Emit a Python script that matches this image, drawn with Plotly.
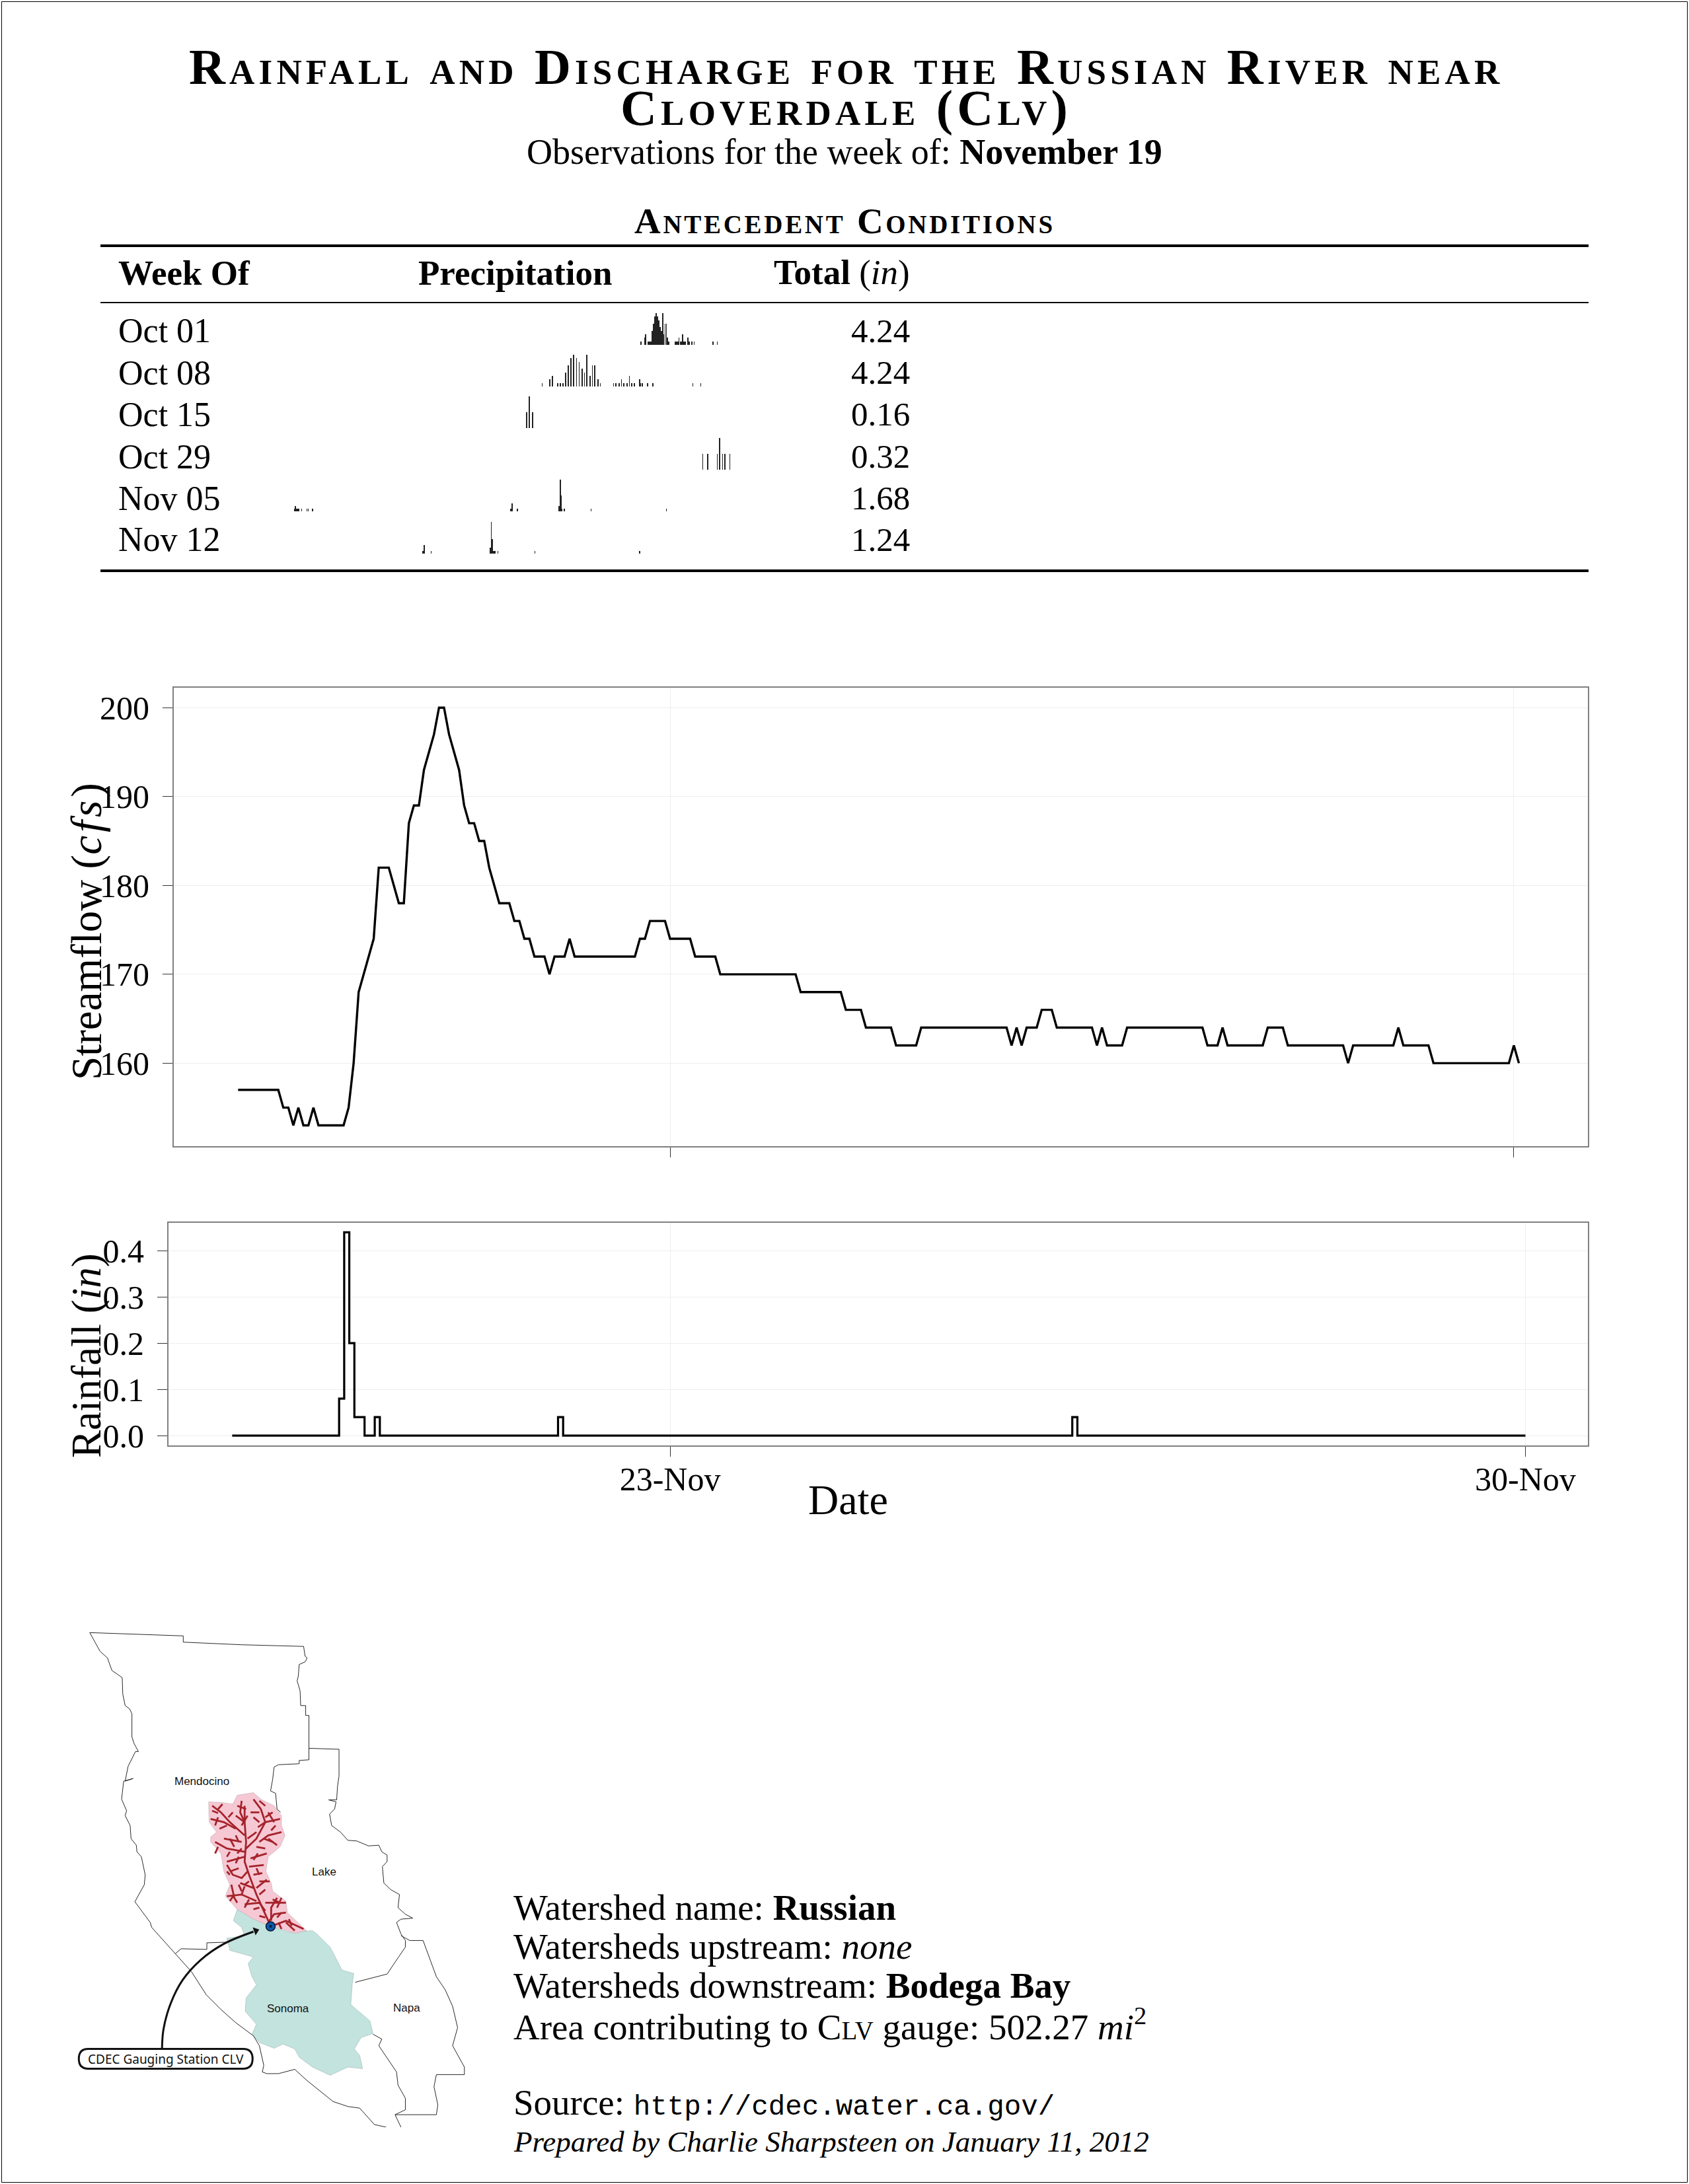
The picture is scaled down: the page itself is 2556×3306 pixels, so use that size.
import pandas as pd
import plotly.graph_objects as go

W, H = 2556, 3306

# ---------- data ----------
start_time = "2011-11-19 10:00"
tick_dates = ["2011-11-23", "2011-11-30"]
tick_labels = ["23-Nov", "30-Nov"]

streamflow_cfs = [
    157,157,157,157,157,157,157,157,157,155,155,153,155,153,153,155,153,153,153,153,
    153,153,155,160,168,170,172,174,182,182,182,180,178,178,187,189,189,193,195,197,
    200,200,197,195,193,189,187,187,185,185,182,180,178,178,178,176,176,174,174,172,
    172,172,170,172,172,172,174,172,172,172,172,172,172,172,172,172,172,172,172,172,
    174,174,176,176,176,176,174,174,174,174,174,172,172,172,172,172,170,170,170,170,
    170,170,170,170,170,170,170,170,170,170,170,170,168,168,168,168,168,168,168,168,
    168,166,166,166,166,164,164,164,164,164,164,162,162,162,162,162,164,164,164,164,
    164,164,164,164,164,164,164,164,164,164,164,164,164,164,162,164,162,164,164,164,
    166,166,166,164,164,164,164,164,164,164,164,162,164,162,162,162,162,164,164,164,
    164,164,164,164,164,164,164,164,164,164,164,164,164,162,162,162,164,162,162,162,
    162,162,162,162,162,164,164,164,164,162,162,162,162,162,162,162,162,162,162,162,
    162,160,162,162,162,162,162,162,162,162,162,164,162,162,162,162,162,162,160,160,
    160,160,160,160,160,160,160,160,160,160,160,160,160,160,162,160,
]
rainfall_in = [
    0,0,0,0,0,0,0,0,0,0,0,0,0,0,0,0,0,0,0,0,
    0,0.08,0.44,0.2,0.04,0.04,0,0,0.04,0,0,0,0,0,0,0,0,0,0,0,
    0,0,0,0,0,0,0,0,0,0,0,0,0,0,0,0,0,0,0,0,
    0,0,0,0,0.04,0,0,0,0,0,0,0,0,0,0,0,0,0,0,0,
    0,0,0,0,0,0,0,0,0,0,0,0,0,0,0,0,0,0,0,0,
    0,0,0,0,0,0,0,0,0,0,0,0,0,0,0,0,0,0,0,0,
    0,0,0,0,0,0,0,0,0,0,0,0,0,0,0,0,0,0,0,0,
    0,0,0,0,0,0,0,0,0,0,0,0,0,0,0,0,0,0,0,0,
    0,0,0,0,0,0.04,0,0,0,0,0,0,0,0,0,0,0,0,0,0,
    0,0,0,0,0,0,0,0,0,0,0,0,0,0,0,0,0,0,0,0,
    0,0,0,0,0,0,0,0,0,0,0,0,0,0,0,0,0,0,0,0,
    0,0,0,0,0,0,0,0,0,0,0,0,0,0,0,0,0,0,0,0,
    0,0,0,0,0,0,0,0,0,0,0,0,0,0,0,
]
flow_ticks = [160, 170, 180, 190, 200]
rain_ticks = [0.0, 0.1, 0.2, 0.3, 0.4]

week_of = ["Oct 01", "Oct 08", "Oct 15", "Oct 29", "Nov 05", "Nov 12"]
week_total = ["4.24", "4.24", "0.16", "0.32", "1.68", "1.24"]

spark_pos_oct01 = [1191,1203,1207,1215,1219,1223,1227,1231,1235,1239,1244,1248,1252,1256,1260,1264,1268,1272,1276,1280,
                   1300,1304,1308,1312,1316,1320,1324,1328,1332,1340,1342,1344,1352,1360,1420,1433]
spark_pos_oct08 = [879,904,912,929,937,945,954,962,970,979,988,996,1005,1013,1021,1030,1038,1046,1055,1063,
                   1105,1113,1122,1130,1138,1147,1155,1163,1171,1187,1190,1196,1213,1229,1356,1381]
spark_amt_oct = [0.04,0.08,0.12,0.04,0.04,0.04,0.16,0.24,0.32,0.36,0.32,0.28,0.2,0.16,0.36,0.12,0.24,0.24,0.08,0.04,
                 0.04,0.04,0.04,0.08,0.04,0.04,0.12,0.04,0.04,0.08,0.04,0.04,0.04,0.04,0.04,0.04]
spark_pos_oct15 = [830, 839, 848]
spark_amt_oct15 = [0.04, 0.08, 0.04]
spark_pos_oct29 = [1387, 1402, 1433, 1441, 1450, 1458, 1473]
spark_amt_oct29 = [0.04, 0.04, 0.04, 0.08, 0.04, 0.04, 0.04]
spark_pos_nov05 = [96,99,102,105,109,118,135,139,152,780,783,785,800,933,936,938,941,949,1034,1272]
spark_amt_nov05 = [0.04,0.08,0.04,0.04,0.04,0.04,0.04,0.04,0.04,0.04,0.12,0.12,0.04,0.08,0.48,0.24,0.04,0.04,0.04,0.04]
spark_pos_nov12 = [501,505,507,528,715,718,722,726,729,739,856,1188]
spark_amt_nov12 = [0.04,0.12,0.12,0.04,0.08,0.44,0.2,0.04,0.04,0.04,0.04,0.04]

# map outlines, traced in map units
county_mendocino = [(125,63),(442,73),(442,92),(640,100),(850,105),(855,135),(862,140),(855,152),(835,160),(832,195),(828,210),(838,240),
    (840,285),(857,285),(857,315),(868,315),(868,450),(835,452),(835,462),(765,465),(750,472),(745,510),(738,545),(755,552),(760,600),(772,610)]
county_mendocino_south = [(590,1005),(522,1007),(522,1027),(435,1025),(415,1040),(370,995),(335,960),(330,945),(278,882),(310,830),(313,800),
    (300,745),(285,730),(283,710),(265,690),(262,650),(245,620),(250,605),(233,570),(240,515),(272,507),(245,515),(255,470),(280,425),(290,425),
    (275,400),(268,380),(268,310),(260,295),(245,285),(237,250),(235,200),(200,178),(185,140),(160,120),(125,63)]
county_lake = [(868,415),(970,418),(970,500),(965,530),(962,572),(935,572),(960,578),(955,600),(938,615),(945,650),(975,670),(1000,695),(1030,697),
    (1070,712),(1105,710),(1115,730),(1133,740),(1133,760),(1117,775),(1122,825),(1145,845),(1175,860),(1170,900),(1195,920),(1220,932),(1180,935),
    (1165,945),(1180,980),(1195,1000),(1195,1020),(1172,1050),(1133,1102),(1025,1127)]
county_napa = [(1180,985),(1210,1000),(1255,1000),(1280,1060),(1300,1110),(1330,1150),(1355,1200),(1372,1265),(1355,1320),(1395,1385),(1395,1408),
    (1300,1408),(1292,1445),(1305,1500),(1300,1530),(1160,1530),(1180,1568)]
county_sonoma_east = [(1085,1285),(1115,1300),(1105,1320),(1135,1360),(1165,1400),(1170,1440),(1195,1480),(1195,1515),(1160,1530)]
county_sonoma_coast = [(415,1040),(470,1095),(520,1165),(570,1210),(620,1250),(680,1290),(700,1320),(715,1380),(710,1400),(725,1405),(765,1405),
    (820,1392),(860,1425),(950,1490),(1000,1505),(1040,1510),(1090,1560),(1130,1568)]
basin_downstream = [(625,905),(612,940),(640,960),(650,985),(590,993),(600,1030),(660,1045),(680,1050),(662,1070),(675,1110),(690,1135),(655,1175),
    (652,1215),(690,1255),(675,1285),(700,1310),(750,1328),(780,1315),(820,1330),(835,1355),(880,1385),(940,1410),(1000,1385),(1050,1390),(1040,1350),
    (1022,1330),(1045,1295),(1085,1283),(1075,1245),(1010,1195),(1015,1130),(1020,1100),(980,1090),(940,1020),(895,980),(880,970),(800,975),(720,950),(680,930)]
basin_upstream = [(528,578),(575,580),(610,585),(625,558),(680,550),(705,570),(750,590),(775,620),(775,650),(787,680),(770,715),(730,745),(722,790),
    (740,825),(745,850),(790,880),(795,915),(830,945),(860,970),(820,978),(760,960),(720,950),(680,935),(625,905),(585,865),(600,830),(580,790),(570,735),
    (535,700),(535,685),(555,670),(530,640)]
river_reaches = [
    [(650,590),(650,640),(655,700),(650,760),(665,800),(690,860),(720,920),(738,955)],
    [(540,590),(570,610),(600,640),(650,680)], [(535,630),(580,640),(620,660)], [(640,575),(635,610),(650,640)],
    [(680,570),(705,600),(720,640),(690,690),(655,720)], [(670,610),(700,610)], [(770,630),(720,640),(695,655)],
    [(775,670),(730,680),(700,700)], [(760,710),(730,690)], [(550,700),(590,720),(650,730)], [(580,690),(640,700)],
    [(590,760),(650,745)], [(725,735),(670,750)], [(715,770),(665,775)], [(590,770),(610,800),(640,810),(660,790)],
    [(600,790),(630,780)], [(635,825),(680,840)], [(725,815),(690,840)], [(605,830),(615,870),(625,885)],
    [(590,865),(640,860),(690,880)], [(650,890),(700,885),(720,910)], [(790,885),(720,885)], [(760,870),(740,900),(740,940)],
    [(790,915),(750,920),(730,945)], [(850,965),(790,940),(745,955)], [(820,970),(790,945)], [(700,820),(735,820)],
    [(650,640),(620,620)], [(560,625),(550,650)], [(730,610),(750,640)], [(615,715),(600,690)], [(690,780),(700,800)],
    [(560,600),(575,585)], [(700,575),(720,590)], [(640,860),(650,835)], [(760,900),(775,870)],
    [(540,605),(560,612)], [(595,625),(610,610)], [(565,660),(590,650)], [(625,590),(655,600)], [(660,620),(640,650)],
    [(745,610),(720,625)], [(700,640),(680,625)], [(755,650),(740,665)], [(745,700),(715,690)], [(690,715),(720,720)],
    [(660,690),(690,670)], [(620,680),(630,700)], [(560,715),(550,735)], [(600,730),(590,745)], [(630,745),(620,765)],
    [(680,755),(695,735)], [(640,720),(625,735)], [(600,800),(590,790)], [(680,800),(710,795)], [(630,830),(640,850)],
    [(665,820),(650,830)], [(720,845),(700,860)], [(615,860),(600,880)], [(665,875),(650,900)], [(700,900),(680,905)],
    [(745,875),(770,885)], [(760,930),(775,915)], [(810,955),(800,935)], [(765,945),(775,965)], [(720,930),(700,925)],
]
gauge_arrow_path = [(370,1330),(375,1270),(400,1190),(440,1120),(500,1060),(580,1010),(680,973)]
gauge_point = (738, 957)
arrow_tip = (688, 970)

# ---------- helpers ----------
SERIF = "Liberation Serif"
def fx(px): return px / W
def fy(py): return 1 - py / H
def xs(p): return [a for a, _ in p]
def ys(p): return [b for _, b in p]

hours = pd.date_range(start_time, periods=len(streamflow_cfs), freq="h")
t23 = pd.Timestamp(tick_dates[0])
def axis_range(px_left, px_right, px_at_t23, px_per_hour):
    return [t23 + pd.Timedelta(hours=(px_left - px_at_t23) / px_per_hour),
            t23 + pd.Timedelta(hours=(px_right - px_at_t23) / px_per_hour)]

fig = go.Figure()

# main series
fig.add_trace(go.Scatter(x=hours, y=streamflow_cfs, mode="lines", xaxis="x", yaxis="y",
                         line=dict(color="black", width=3.4), hoverinfo="skip", showlegend=False))
fig.add_trace(go.Scatter(x=hours[:len(rainfall_in)], y=rainfall_in, mode="lines", xaxis="x2", yaxis="y2",
                         line=dict(color="black", width=3.2, shape="hv"), hoverinfo="skip", showlegend=False))

# sparklines
rows = [(spark_pos_oct01, spark_amt_oct), (spark_pos_oct08, spark_amt_oct), (spark_pos_oct15, spark_amt_oct15),
        (spark_pos_oct29, spark_amt_oct29), (spark_pos_nov05, spark_amt_nov05), (spark_pos_nov12, spark_amt_nov12)]
baselines = [522, 585, 648, 711, 774, 838]
spark_layout = {}
for i, (pos, amt) in enumerate(rows):
    name = f"y{i+3}"
    fig.add_trace(go.Bar(x=pos, y=amt, width=1.7, xaxis="x3", yaxis=name,
                         marker=dict(color="#222222", line=dict(width=0)), hoverinfo="skip", showlegend=False))
    spark_layout[f"yaxis{i+3}"] = dict(domain=[fy(baselines[i]), fy(baselines[i] - 48)], range=[0, max(amt)],
                                       anchor="x3", visible=False, fixedrange=True)

# map
MAPX, MAPY = "x4", "y9"
def map_fill(p, color, line="rgba(0,0,0,0)", lw=0.5):
    fig.add_trace(go.Scatter(x=xs(p) + [p[0][0]], y=ys(p) + [p[0][1]], mode="lines", fill="toself", fillcolor=color,
                             line=dict(color=line, width=lw), xaxis=MAPX, yaxis=MAPY, hoverinfo="skip", showlegend=False))
def map_line(p, color="#111111", lw=0.9, **kw):
    fig.add_trace(go.Scatter(x=xs(p), y=ys(p), mode="lines", line=dict(color=color, width=lw, **kw),
                             xaxis=MAPX, yaxis=MAPY, hoverinfo="skip", showlegend=False))

map_fill(basin_downstream, "#c3e3de", "#8fa9a5")
map_fill(basin_upstream, "#f6c8d4", "#b5a0a5")
for c in (county_mendocino, county_mendocino_south, county_lake, county_napa, county_sonoma_east, county_sonoma_coast):
    map_line(c)
for r in river_reaches:
    map_line(r, color="#a5232b", lw=2.8)
map_line(gauge_arrow_path, color="#111111", lw=3, shape="spline")
fig.add_trace(go.Scatter(x=[arrow_tip[0]], y=[arrow_tip[1]], mode="markers", xaxis=MAPX, yaxis=MAPY,
                         marker=dict(size=11, color="#111111", symbol="triangle-up", angle=70),
                         hoverinfo="skip", showlegend=False))
fig.add_trace(go.Scatter(x=[gauge_point[0]], y=[gauge_point[1]], mode="markers", xaxis=MAPX, yaxis=MAPY,
                         marker=dict(size=14, color="#0d57a8", line=dict(color="#0a1a33", width=1.5)),
                         hoverinfo="skip", showlegend=False))
fig.add_trace(go.Scatter(x=[gauge_point[0]], y=[gauge_point[1]], mode="markers", xaxis=MAPX, yaxis=MAPY,
                         marker=dict(size=4, color="#0a1a33"), hoverinfo="skip", showlegend=False))

# ---------- text ----------
ann = []
def text(px, py, s, size, anchor="left", font=SERIF, angle=0, **kw):
    f = dict(family=font, size=size, color="black")
    f.update(kw)
    ann.append(dict(x=fx(px), y=fy(py), xref="paper", yref="paper", text=s, showarrow=False,
                    xanchor=anchor, yanchor="middle", align=anchor, font=f, textangle=angle))

ls = lambda s, n: f'<span style="letter-spacing:{n}px">{s}</span>'
text(1280, 101, ls("<b>Rainfall and Discharge for the Russian River near</b>", 6.2), 76, "center", variant="small-caps")
text(1280, 163, ls("<b>Cloverdale (Clv)</b>", 6.2), 76, "center", variant="small-caps")
text(1278, 230, "Observations for the week of: <b>November 19</b>", 54, "center")
text(1278, 334, ls("<b>Antecedent Conditions</b>", 3.7), 55, "center", variant="small-caps")
text(177, 413, "<b>Week Of</b>", 53)
text(631, 413, "<b>Precipitation</b>", 53)
text(1379, 413, "<b>Total</b> (<i>in</i>)", 53, "right")
for yy, wk, tot in zip([501, 564, 627, 691, 754, 817], week_of, week_total):
    text(177, yy, wk, 52)
    text(1379, yy, tot, 51, "right")

text(131, 1410, 'Streamflow (<span style="letter-spacing:5px"><i>cfs</i></span>)', 65, "center", angle=-90)
text(131, 2052, "Rainfall (<i>in</i>)", 63, "center", angle=-90)
text(1283, 2270, "Date", 64, "center")

lv = '<span style="font-size:39px">LV</span>'
text(775, 2887, "Watershed name: <b>Russian</b>", 55)
text(775, 2946, "Watersheds upstream: <i>none</i>", 55)
text(775, 3005, "Watersheds downstream: <b>Bodega Bay</b>", 55)
text(775, 3064, f"Area contributing to C{lv} gauge: 502.27 <i>mi</i><sup>2</sup>", 55)
text(775, 3183, "Source: <span style=\"font-family:'Liberation Mono';font-size:42.5px\">http://cdec.water.ca.gov/</span>", 55)
text(775, 3242, "<i>Prepared by Charlie Sharpsteen on January 11, 2012</i>", 45)

def map_text(x, y, s, size=17, font="Liberation Sans"):
    ann.append(dict(x=x, y=y, xref=MAPX, yref=MAPY, text=s, showarrow=False, xanchor="center", yanchor="middle",
                    font=dict(family=font, size=size, color="#111111")))
map_text(505, 515, "Mendocino")
map_text(920, 792, "Lake")
map_text(797, 1208, "Sonoma")
map_text(1200, 1206, "Napa")
map_text(382, 1360, "CDEC Gauging Station CLV", 19, "Noto Sans")

# ---------- layout ----------
frame = dict(showline=True, mirror=True, linecolor="#808080", linewidth=2, zeroline=False,
             showgrid=True, gridcolor="#eeeeee", gridwidth=1, ticks="outside", ticklen=15,
             tickcolor="#333333", tickwidth=1, fixedrange=True)
tickfont = dict(family=SERIF, size=50, color="black")

layout = dict(
    width=W, height=H, autosize=False, margin=dict(l=0, r=0, t=0, b=0, pad=0, autoexpand=False),
    paper_bgcolor="white", plot_bgcolor="white", showlegend=False, bargap=0,
    xaxis=dict(domain=[fx(263), fx(2403)], anchor="y", type="date", range=axis_range(263, 2403, 1014, 7.601),
               tickmode="array", tickvals=tick_dates, showticklabels=False, **frame),
    yaxis=dict(domain=[fy(1735), fy(1041)], anchor="x", range=[150.66, 202.25], tickmode="array",
               tickvals=flow_ticks, ticktext=[str(v) for v in flow_ticks], tickfont=tickfont, ticklabelstandoff=10, **frame),
    xaxis2=dict(domain=[fx(255), fx(2403)], anchor="y2", type="date", range=axis_range(255, 2403, 1014, 7.705),
                tickmode="array", tickvals=tick_dates, ticktext=tick_labels, tickfont=tickfont, ticklabelstandoff=-9, **frame),
    yaxis2=dict(domain=[fy(2188), fy(1851)], anchor="x2", range=[-0.0214, 0.4606], tickmode="array",
                tickvals=rain_ticks, ticktext=[f"{v:.1f}" for v in rain_ticks], tickfont=tickfont, ticklabelstandoff=10, **frame),
    xaxis3=dict(domain=[fx(400), fx(1150)], anchor="y3", range=[0, 1568], visible=False, fixedrange=True),
    xaxis4=dict(domain=[fx(80), fx(780)], anchor="y9", range=[0, 1568], visible=False, fixedrange=True),
    yaxis9=dict(domain=[fy(3220), fy(2440)], anchor="x4", range=[1568, 0], visible=False, fixedrange=True),
    annotations=ann,
    shapes=[
        dict(type="rect", xref="paper", yref="paper", x0=fx(2.5), x1=fx(2553.5), y0=fy(2.5), y1=fy(3303.5),
             line=dict(color="black", width=1), layer="below"),
        dict(type="line", xref="paper", yref="paper", x0=fx(152), x1=fx(2404), y0=fy(372), y1=fy(372), line=dict(color="black", width=4)),
        dict(type="line", xref="paper", yref="paper", x0=fx(152), x1=fx(2404), y0=fy(458), y1=fy(458), line=dict(color="black", width=2)),
        dict(type="line", xref="paper", yref="paper", x0=fx(152), x1=fx(2404), y0=fy(864), y1=fy(864), line=dict(color="black", width=4)),
        dict(type="path", xref=MAPX, yref=MAPY,
             path="M 120,1330 L 645,1330 Q 677,1330 677,1360 Q 677,1390 645,1390 L 120,1390 Q 88,1390 88,1360 Q 88,1330 120,1330 Z",
             fillcolor="white", line=dict(color="#111111", width=3), layer="above"),
    ],
)
layout.update(spark_layout)
fig.update_layout(**layout)

fig.write_html("out.html", config=dict(displayModeBar=False, responsive=False),
               post_script="document.body.style.margin='0';document.body.style.overflow='hidden';")
